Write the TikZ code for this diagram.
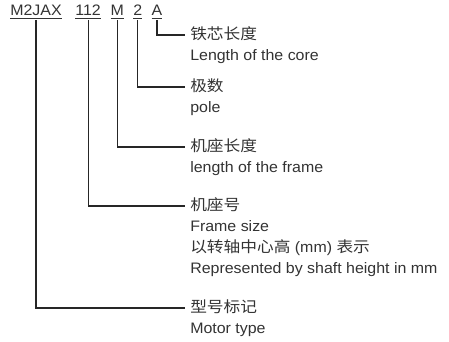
\documentclass[tikz,border=0pt]{standalone}
\usepackage{fontspec}
\setmainfont{Liberation Sans}[FakeStretch=1.05]
\newfontfamily\cjk{Noto Sans CJK SC}[FakeStretch=1.1]
\usetikzlibrary{positioning}
\colorlet{textgray}{black!80}
\colorlet{linegray}{black!85}

\begin{document}
\begin{tikzpicture}[code/.style={inner sep=0pt, text height=0.26cm, text depth=0.09cm, text=textgray, font=\fontsize{10.8pt}{12pt}\selectfont},
cn/.style={inner xsep=0.125cm, inner ysep=0pt, text height=0.3cm, text depth=0.05cm, text=textgray, font=\cjk\fontsize{10.8pt}{12pt}\selectfont},
en/.style={inner xsep=0.125cm, inner ysep=0pt, text=textgray, font=\fontsize{10.8pt}{12pt}\selectfont},
lead/.style={draw=linegray, line width=0.8pt}]

\useasboundingbox (0,0) rectangle (11.225,-8.55);

% Type code

\node [code, anchor=base west] (type) at (0.25,-0.4) {\underline{M2JAX}};
\node [code, right=0.33cm of type] (frame) {\underline{112}};
\node [code, right=0.23cm of frame] (length) {\underline{M}};
\node [code, right=0.225cm of length] (pole) {\underline{2}};
\node [code, right=0.22cm of pole] (core) {\underline{A}};

% Meanings

\node [cn, anchor=west] (corecn) at (4.625,-0.875) {铁芯长度};
\node [en, below=0.65cm of corecn.west, anchor=base west] (coreen) {Length of the core};

\node [cn, below=0.65cm of coreen.base west, anchor=west] (polecn) {极数};
\node [en, below=0.65cm of polecn.west, anchor=base west] (poleen) {pole};

\node [cn, below=0.85cm of poleen.base west, anchor=west] (lengthcn) {机座长度};
\node [en, below=0.65cm of lengthcn.west, anchor=base west] (lengthen) {length of the frame};

\node [cn, below=0.825cm of lengthen.base west, anchor=west] (framecn) {机座号};
\node [en, below=0.65cm of framecn.west, anchor=base west] (frameen) {Frame size};
\node [en, below=0.525cm of frameen.base west, anchor=base west] (framecn2) {{\cjk 以转轴中心高} (mm) {\cjk 表示}};
\node [en, below=0.525cm of framecn2.base west, anchor=base west] (frameen2) {Represented by shaft height in mm};

\node [cn, below=0.85cm of frameen2.base west, anchor=west] (typecn) {型号标记};
\node [en, below=0.65cm of typecn.west, anchor=base west] (typeen) {Motor type};

% Leads

\draw [lead] (core.south) |- (corecn.west);
\draw [lead] (pole.south) |- (polecn.west);
\draw [lead] (length.south) |- (lengthcn.west);
\draw [lead] (frame.south) |- (framecn.west);
\draw [lead] (type.south) |- (typecn.west);

\end{tikzpicture}
\end{document}
